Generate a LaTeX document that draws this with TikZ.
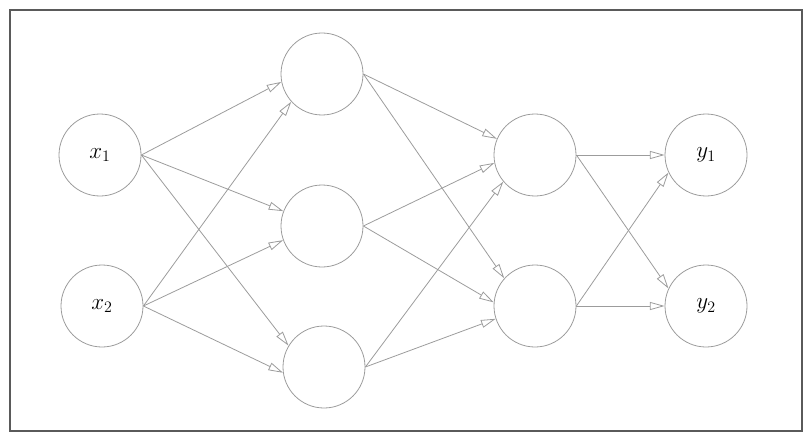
\documentclass[tikz,border=0pt]{standalone}
\usepackage{amsmath,amssymb}
\usetikzlibrary{arrows.meta,positioning}
\definecolor{linec}{HTML}{9C9C9C}
\definecolor{framec}{HTML}{5A5A5A}

\begin{document}
\begin{tikzpicture}[x=0.75pt,y=-0.75pt,font=\LARGE,
    neuron/.style={circle,draw=linec,line width=0.6pt,minimum size=61.5pt,inner sep=0pt},
    conn/.style={draw=linec,line width=0.6pt,-{Triangle[open,length=11pt,width=6pt]}}]
  \useasboundingbox (0,0) rectangle (812,442);
  \draw[framec,line width=0.9pt] (10,10) rectangle (802,431);
  % input layer
  \node[neuron] (x1) at (100,155) {$x_1$};
  \node[neuron] (x2) at (102,306) {$x_2$};
  % hidden layers
  \node[neuron] (h1) at (322,74) {};
  \node[neuron] (h2) at (322,226) {};
  \node[neuron] (h3) at (324,367) {};
  \node[neuron] (g1) at (535,155) {};
  \node[neuron] (g2) at (535,306) {};
  % output layer
  \node[neuron] (y1) at (706,155) {$y_1$};
  \node[neuron] (y2) at (706,306) {$y_2$};
  % connections, end angles on the target
  \foreach \s/\t/\a in {x1/h1/191,x2/h1/222,x1/h2/159,x2/h2/200,x1/h3/149,x2/h3/188,
      h1/g1/157,h2/g1/191,h3/g1/220,h1/g2/138,h2/g2/175,h3/g2/198,
      g1/y1/180,g2/y1/205,g1/y2/155,g2/y2/180}
    {\draw[conn] (\s.east) -- (\t.\a);}
\end{tikzpicture}
\end{document}
